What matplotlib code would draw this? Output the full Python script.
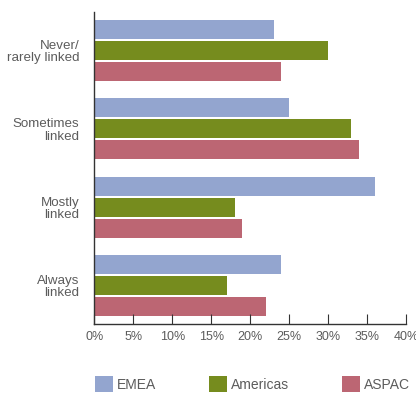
import numpy as np
import matplotlib
matplotlib.use("Agg")
import matplotlib.pyplot as plt

categories = ["Never/\nrarely linked", "Sometimes\nlinked", "Mostly\nlinked", "Always\nlinked"]
regions = ["EMEA", "Americas", "ASPAC"]
emea = [23, 25, 36, 24]
americas = [30, 33, 18, 17]
aspac = [24, 34, 19, 22]
xticks = [0, 5, 10, 15, 20, 25, 30, 35, 40]

colors = ["#93a5cf", "#768c1e", "#bc6673"]
text_col = "#5c5c5c"
plt.rcParams["font.family"] = ["Liberation Sans", "DejaVu Sans"]

fig = plt.figure(figsize=(4.16, 3.94), dpi=100)
ax = fig.add_axes([0.227, 0.178, 0.749, 0.792])

y = np.arange(len(categories))
bar_h = 0.243
step = 0.268
for k, (vals, col, name) in enumerate(zip([emea, americas, aspac], colors, regions)):
    ax.barh(y + (k - 1) * step, vals, height=bar_h, color=col, label=name)

ax.set_ylim(3.49, -0.49)
ax.set_xlim(0, 40)
ax.set_xticks(xticks)
ax.set_xticklabels([f"{t}%" for t in xticks], fontsize=9, color=text_col)
ax.set_yticks(y)
ax.set_yticklabels(categories, fontsize=9.6, color=text_col, linespacing=1.05)

for s in ["top", "right"]:
    ax.spines[s].set_visible(False)
for s in ["left", "bottom"]:
    ax.spines[s].set_color("#333333")
    ax.spines[s].set_linewidth(1.0)
ax.tick_params(axis="x", direction="in", length=7, color="#333333", pad=5)
ax.tick_params(axis="y", length=0, pad=11)

fig.legend(loc="lower left", bbox_to_anchor=(0.228, 0.004), ncol=3, frameon=False,
           fontsize=10, labelcolor=text_col, handlelength=1.3, handleheight=1.45,
           handletextpad=0.3, columnspacing=3.8, borderaxespad=0, borderpad=0)

fig.savefig("out.png", dpi=100)
